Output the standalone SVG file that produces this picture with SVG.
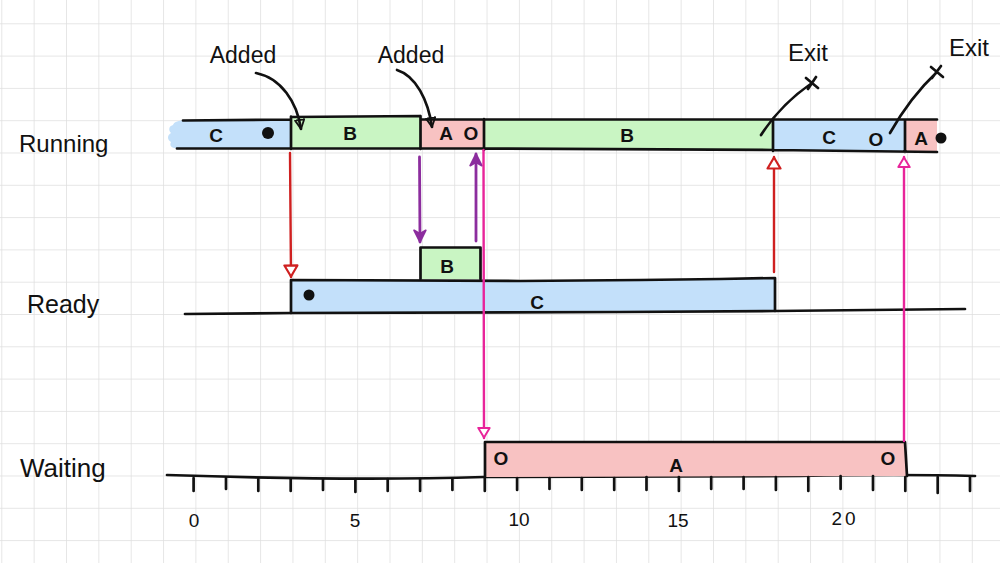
<svg xmlns="http://www.w3.org/2000/svg" width="1000" height="563" viewBox="0 0 1000 563">
<style>
.lbl{font-family:"Liberation Sans",Arial,sans-serif;fill:#111;}
.row{font-size:24px;}
.note{font-size:23px;text-anchor:middle;}
.in{font-size:19px;font-weight:bold;text-anchor:middle;}
.num{font-size:19px;text-anchor:middle;}
.ink{fill:none;stroke:#111;stroke-width:2.7;stroke-linecap:round;stroke-linejoin:round;}
.blue{fill:#c3e0fa;}
.green{fill:#c9f5c3;}
.pink{fill:#f8c2c2;}
.red{fill:none;stroke:#cf2020;stroke-width:2.4;stroke-linecap:round;}
.pur{fill:none;stroke:#8c2d9e;stroke-width:2.8;stroke-linecap:round;}
.mag{fill:none;stroke:#e8249a;stroke-width:2.4;stroke-linecap:round;}
</style>
<defs>
<pattern id="grid" patternUnits="userSpaceOnUse" x="1.3" y="-9" width="32.35" height="32.3">
<path d="M0,0 H32.35 M0,0 V32.3" fill="none" stroke="#dedede" stroke-width="1.5"/>
</pattern>
<marker id="hRed" viewBox="0 0 14 16" refX="13" refY="8" markerWidth="14" markerHeight="16" markerUnits="userSpaceOnUse" orient="auto">
<path d="M1.5,1.5 L12.5,8 L1.5,14.5 Z" fill="#fff" stroke="#cf2020" stroke-width="2.2" stroke-linejoin="round"/>
</marker>
<marker id="hMag" viewBox="0 0 14 16" refX="13" refY="8" markerWidth="13" markerHeight="14" markerUnits="userSpaceOnUse" orient="auto">
<path d="M1.5,1.5 L12.5,8 L1.5,14.5 Z" fill="#fff" stroke="#e8249a" stroke-width="2.2" stroke-linejoin="round"/>
</marker>
<marker id="hPur" viewBox="0 0 12 12" refX="11" refY="6" markerWidth="14" markerHeight="14" markerUnits="userSpaceOnUse" orient="auto">
<path d="M1,1 L11,6 L1,11 L4,6 Z" fill="#8c2d9e" stroke="#8c2d9e" stroke-width="1.5" stroke-linejoin="round"/>
</marker>
<marker id="hBlk" viewBox="0 0 12 12" refX="11" refY="6" markerWidth="11" markerHeight="11" markerUnits="userSpaceOnUse" orient="auto">
<path d="M1,1 L11,6 L1,11 Z" fill="none" stroke="#111" stroke-width="2" stroke-linejoin="round"/>
</marker>
</defs>

<rect width="1000" height="563" fill="#fff"/>
<rect width="1000" height="563" fill="url(#grid)"/>

<g id="row-labels">
<text class="lbl row" x="19" y="152">Running</text>
<text class="lbl row" x="27" y="313" style="font-size:25px">Ready</text>
<text class="lbl row" x="20" y="477" style="font-size:26px">Waiting</text>
</g>

<g id="running">
<path class="blue" d="M183,120.5 L291,119.5 L291,148.5 L177,148.5 C172,148.5 169,146 171,142 C167,140 167,135 171,133 C168,130 169,126 173,125 C174,122 178,120.5 183,120.5 Z"/>
<rect class="green" x="291" y="116.5" width="129.5" height="32"/>
<rect class="pink" x="420.5" y="119.5" width="63.5" height="29"/>
<path class="green" d="M484,119.5 L773,119.5 L773,150 L484,149 Z"/>
<path class="blue" d="M773,119.5 L905,119.5 L905,151.5 L773,150 Z"/>
<path class="pink" d="M905,119.5 L937,119.5 L937,152 L905,151.5 Z"/>
<path class="ink" d="M183,120.5 L290,119.5 M291,117 L420,116 M421,119.5 L937,119.5 M177,148.5 L484,148.5 L773,150 L937,152 M291,116.5 L291,149 M420.5,116 L420.5,149 M484,119 L484,150 M773,119.5 L773,151 M905,119.5 L905,152"/>
<text class="lbl in" x="216" y="142">C</text>
<circle cx="268" cy="133" r="6" fill="#111"/>
<text class="lbl in" x="350" y="140">B</text>
<text class="lbl in" x="446" y="140">A</text>
<text class="lbl in" x="471" y="140">O</text>
<text class="lbl in" x="627" y="142">B</text>
<text class="lbl in" x="829" y="144">C</text>
<text class="lbl in" x="876" y="146">O</text>
<text class="lbl in" x="921" y="145">A</text>
<circle cx="941" cy="138" r="5.5" fill="#111"/>
</g>

<g id="ready">
<path class="ink" d="M185,314 L291,313 M775,311 L965,309"/>
<path class="blue" d="M291,280 L520,281 L640,280 L720,279 L775,278 L775,311 L620,312 L291,313 Z"/>
<path class="ink" d="M291,280 L520,281 L640,280 L720,279 L775,278 L775,311 L620,312 L291,313 Z"/>
<rect class="green" x="420.5" y="247.5" width="60" height="31.5"/>
<path class="ink" d="M420.5,279 L420.5,247.5 L480.5,247.5 L480.5,279"/>
<text class="lbl in" x="447" y="273">B</text>
<circle cx="309" cy="295" r="5.5" fill="#111"/>
<text class="lbl in" x="537" y="309">C</text>
</g>

<g id="waiting">
<path class="ink" d="M167,475 C260,478 380,480 484,477 L800,476 C850,475 900,474 975,476"/>
<path class="pink" d="M485,442 L905,442 L907,476 L485,477 Z"/>
<path class="ink" d="M485,477 L485,442 L905,442 L907,476"/>
<text class="lbl in" x="501" y="465">O</text>
<text class="lbl in" x="676" y="472">A</text>
<text class="lbl in" x="888" y="465">O</text>
</g>

<g id="axis">
<path class="ink" stroke-width="2.2" d="M193.6,478 V491 M226,478 V489 M258.3,479 V491 M290.7,479 V491 M323,479 V490 M355.4,479 V492 M387.7,479 V491 M420.1,479 V491 M452.4,479 V490 M484.8,478 V491 M517.1,478 V490 M549.5,478 V489 M581.8,478 V490 M614.2,478 V490 M646.5,477 V490 M678.9,477 V491 M711.2,477 V489 M743.6,477 V489 M775.9,477 V490 M808.3,477 V491 M840.6,476 V489 M873,476 V490 M905.3,477 V491 M937.7,477 V493 M970,477 V491"/>
<text class="lbl num" x="194" y="527">0</text>
<text class="lbl num" x="355" y="527">5</text>
<text class="lbl num" x="519" y="526">10</text>
<text class="lbl num" x="678" y="527">15</text>
<text class="lbl num" x="845" y="525" letter-spacing="3">20</text>
</g>

<g id="annotations">
<text class="lbl note" x="243" y="63">Added</text>
<text class="lbl note" x="411" y="63">Added</text>
<text class="lbl note" x="808" y="61" style="font-size:24px">Exit</text>
<text class="lbl note" x="969" y="56" style="font-size:24px">Exit</text>
<path class="ink" marker-end="url(#hBlk)" d="M256,73 C281,78 297,102 301,129"/>
<path class="ink" marker-end="url(#hBlk)" d="M397,70 C416,76 428,100 432,127"/>
<path class="ink" d="M761,135 C772,118 790,98 812,83 M806,78 L818,88 M808,89 L816,77"/>
<path class="ink" d="M890,133 C903,110 920,88 937,72 M931,67 L943,77 M932,78 L941,66"/>
</g>

<g id="connectors">
<path class="red" marker-end="url(#hRed)" d="M290,153 L291,277"/>
<path class="pur" marker-end="url(#hPur)" d="M419.5,157 L420,242"/>
<path class="pur" marker-end="url(#hPur)" d="M476,241 L476,154"/>
<path class="mag" marker-end="url(#hMag)" d="M483.5,150 L484,438"/>
<path class="red" marker-end="url(#hRed)" d="M774,272 L774,157"/>
<path class="mag" marker-end="url(#hMag)" d="M904,441 L904,157"/>
</g>
</svg>
